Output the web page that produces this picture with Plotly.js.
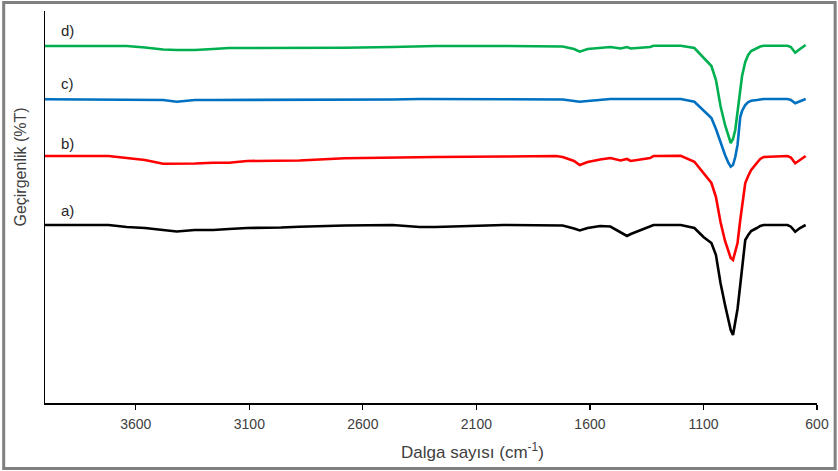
<!DOCTYPE html>
<html>
<head>
<meta charset="utf-8">
<script src="https://cdn.plot.ly/plotly-3.0.1.min.js"></script>
<style>
  html, body { margin: 0; padding: 0; background: #ffffff; }
  #chart { width: 838px; height: 471px; }
</style>
</head>
<body>
<div id="chart"></div>
<script>
// Wavenumber grid (cm-1)
const wavenumbers = [4000, 3720, 3640, 3560, 3480, 3420, 3340, 3260, 3190, 3110, 2960, 2880, 2680, 2470, 2350, 2280, 1980, 1750, 1720, 1670, 1645, 1610, 1555, 1510, 1465, 1437, 1420, 1335, 1320, 1200, 1140, 1100, 1065, 1045, 1025, 1005, 990, 980, 970, 960, 950, 938, 930, 916, 903, 890, 865, 850, 835, 730, 715, 696, 675, 650];

// Offset transmittance (arbitrary units) for each sample
const seriesD = [357, 357, 357, 355.5, 353.5, 353, 353, 354, 355, 355, 355, 355, 355.3, 356, 357, 357, 357, 357, 356.5, 354, 351.3, 354, 355.5, 356, 354.5, 356, 354.5, 356, 357.3, 357.3, 355, 345, 337, 323, 297, 278, 266, 260, 264, 273, 291, 315, 327, 341, 348, 352, 355, 356.5, 357.3, 357.3, 356, 350.3, 354, 358];
const seriesC = [303.7, 303.7, 303.5, 303, 303, 301.3, 303, 303, 303, 303, 303, 303, 303, 303.5, 304, 304, 304, 304, 303.5, 302, 301.3, 302, 303.5, 304, 304, 304, 304, 304, 304.3, 304, 301.3, 293, 285, 274, 260, 248, 240, 236.3, 238, 246, 258, 286, 292, 298, 301, 302.3, 303, 303.5, 304, 304, 303, 299.7, 302, 304];
const seriesB = [247, 247, 245, 243, 239.3, 239.3, 239.5, 240.3, 240.3, 242, 242, 242.5, 244.7, 245, 245.5, 246, 246.5, 247, 246, 242, 238, 241, 243.5, 245, 242.5, 244, 242, 245, 247, 247.3, 241.3, 230, 220, 206, 181, 162, 151, 145, 143, 151, 160, 183, 197, 220, 227, 233, 240, 244, 246, 247, 245.5, 239.7, 243, 247];
const seriesA = [178, 178, 176, 175, 173, 171.5, 173, 173, 174, 175, 175.5, 176.3, 177.5, 178, 176, 176, 178, 178, 177.5, 174.5, 172.5, 175, 177, 176.5, 171, 167, 169, 177, 178, 178, 175, 166, 160, 148, 120, 98, 81, 73, 68, 81, 94, 118, 135, 163, 168, 172, 175, 177, 178, 178, 176.3, 171.3, 175, 178];

const seriesNames = ["a)", "b)", "c)", "d)"];
const xTickVals = [3600, 3100, 2600, 2100, 1600, 1100, 600];
const xTickText = ["3600", "3100", "2600", "2100", "1600", "1100", "600"];

const colors = {"a)": "#000000", "b)": "#ff0000", "c)": "#0070c0", "d)": "#00b050"};
const ys = {"a)": seriesA, "b)": seriesB, "c)": seriesC, "d)": seriesD};

const FONT = "Liberation Sans, Arial, sans-serif";

const traces = seriesNames.map(n => ({
  type: "scatter",
  mode: "lines",
  name: n,
  x: wavenumbers,
  y: ys[n],
  line: {color: colors[n], width: 2.6, shape: "linear"},
  hoverinfo: "x+y+name"
}));

const labelY = {"a)": 193, "b)": 260, "c)": 320, "d)": 373};
const annotations = seriesNames.map(n => ({
  x: 3900, y: labelY[n], xref: "x", yref: "y",
  text: n, showarrow: false, xanchor: "center", yanchor: "middle",
  font: {family: FONT, size: 15, color: "#262626"}
}));
annotations.push({
  xref: "paper", yref: "paper",
  x: -0.033, y: 0.602,
  text: "Geçirgenlik (%T)", showarrow: false, textangle: -90,
  xanchor: "center", yanchor: "middle",
  font: {family: FONT, size: 16, color: "#404040"}
});
annotations.push({
  xref: "paper", yref: "paper",
  x: 0.554, y: -0.122,
  text: "Dalga sayısı (cm<sup>-1</sup>)", showarrow: false,
  xanchor: "center", yanchor: "middle",
  font: {family: FONT, size: 17, color: "#404040"}
});

const layout = {
  width: 838, height: 471,
  margin: {l: 45, r: 21, t: 11, b: 68, pad: 0},
  paper_bgcolor: "#ffffff",
  plot_bgcolor: "#ffffff",
  showlegend: false,
  xaxis: {
    range: [4000, 600],
    tickvals: xTickVals, ticktext: xTickText,
    ticks: "outside", ticklen: 5, tickwidth: 1.2, tickcolor: "#000000",
    ticklabelstandoff: 3,
    showline: true, linecolor: "#000000", linewidth: 1.6,
    showgrid: false, zeroline: false,
    tickfont: {family: FONT, size: 14, color: "#404040"}
  },
  yaxis: {
    range: [0, 392],
    showticklabels: false, ticks: "",
    showline: true, linecolor: "#000000", linewidth: 1.2,
    showgrid: false, zeroline: false
  },
  annotations: annotations,
  shapes: [{
    type: "rect", xref: "paper", yref: "paper",
    x0: -0.0535, x1: 1.0235, y0: -0.167, y1: 1.0215,
    line: {color: "#808080", width: 3}, fillcolor: "rgba(0,0,0,0)", layer: "above"
  }]
};

Plotly.newPlot("chart", traces, layout, {displayModeBar: false, staticPlot: true});
</script>
</body>
</html>
